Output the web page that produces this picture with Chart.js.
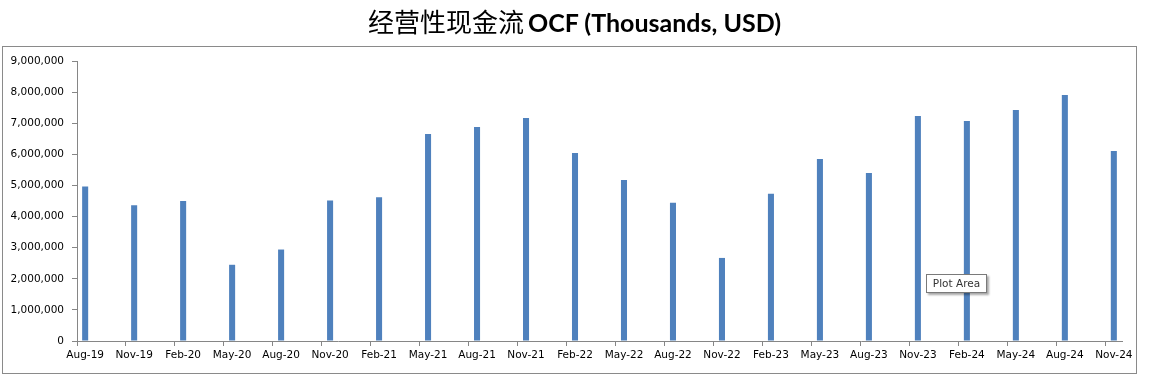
<!DOCTYPE html>
<html><head><meta charset="utf-8">
<script src="https://cdn.jsdelivr.net/npm/chart.js@4.4.0/dist/chart.umd.min.js"></script>
<style>
html,body{margin:0;padding:0;background:#fff;}
#wrap{position:relative;width:1149px;height:383px;overflow:hidden;}
#frame{position:absolute;left:2px;top:46px;width:1133px;height:326px;border:1px solid #8a8a8a;}
#title{position:absolute;left:0;top:3px;width:1149px;text-align:center;white-space:nowrap;color:#000;line-height:36px;}
#title .zh{font-family:"Noto Sans CJK SC";font-weight:400;font-size:26px;}
#title .en{font-family:Lato;font-weight:700;font-size:25px;}
#tip{position:absolute;left:926px;top:274px;width:59px;height:17px;border:1px solid #7a7a7a;background:#fff;font-family:"DejaVu Sans";font-size:10.5px;line-height:17px;text-align:center;color:#333;box-shadow:2px 2px 2px rgba(0,0,0,0.35);}
canvas{position:absolute;left:0;top:0;}
</style></head><body>
<div id="wrap">
<div id="frame"></div>
<canvas id="c" width="1149" height="383"></canvas>
<div id="title"><span class="zh">经营性现金流</span> <span class="en">OCF (Thousands, USD)</span></div>
<div id="tip">Plot Area</div>
</div>
<script>
const quarters = ['Aug-19','Nov-19','Feb-20','May-20','Aug-20','Nov-20','Feb-21','May-21','Aug-21','Nov-21','Feb-22','May-22','Aug-22','Nov-22','Feb-23','May-23','Aug-23','Nov-23','Feb-24','May-24','Aug-24','Nov-24'];
const ocf = [4970000,4360000,4500000,2450000,2940000,4520000,4620000,6654000,6880000,7170000,6040000,5175000,4440000,2670000,4730000,5850000,5400000,7230000,7070000,7425000,7910000,6110000];
const yMin = 0, yMax = 9000000, yStep = 1000000;
const monthsPerQuarter = 3;

// monthly date axis: each quarter label followed by two unlabeled months
const monthLabels = [], monthValues = [];
quarters.forEach((q, i) => {
  monthLabels.push(q); monthValues.push(ocf[i]);
  if (i < quarters.length - 1) {
    for (let k = 1; k < monthsPerQuarter; k++) { monthLabels.push(''); monthValues.push(null); }
  }
});

const axisGray = '#868686';
const tickFont = {family: 'DejaVu Sans', size: 10.5};

new Chart(document.getElementById('c'), {
  type: 'bar',
  data: {
    labels: monthLabels,
    datasets: [{
      data: monthValues,
      backgroundColor: '#4f81bd',
      borderWidth: 0,
      barPercentage: 0.37,
      categoryPercentage: 1.0
    }]
  },
  options: {
    responsive: false,
    animation: false,
    layout: {padding: {left: 0, right: 27, top: 61, bottom: 20}},
    plugins: {legend: {display: false}, tooltip: {enabled: false}, title: {display: false}},
    scales: {
      x: {
        type: 'category',
        offset: true,
        grid: {
          offset: true, drawOnChartArea: false, drawTicks: true, tickLength: 5,
          color: ctx => (ctx.index % monthsPerQuarter === 0 ? axisGray : 'rgba(0,0,0,0)')
        },
        border: {display: true, color: axisGray},
        ticks: {autoSkip: false, maxRotation: 0, minRotation: 0, padding: 3, font: tickFont, color: '#000'},
        afterFit: s => { s.height = 22; }
      },
      y: {
        min: yMin, max: yMax,
        grid: {drawOnChartArea: false, drawTicks: true, tickLength: 5, color: axisGray},
        border: {display: true, color: axisGray},
        ticks: {stepSize: yStep, padding: 8, font: tickFont, color: '#000',
          callback: v => Number(v).toLocaleString('en-US')},
        afterFit: s => { s.width = 77; }
      }
    }
  }
});
</script>
</body></html>
